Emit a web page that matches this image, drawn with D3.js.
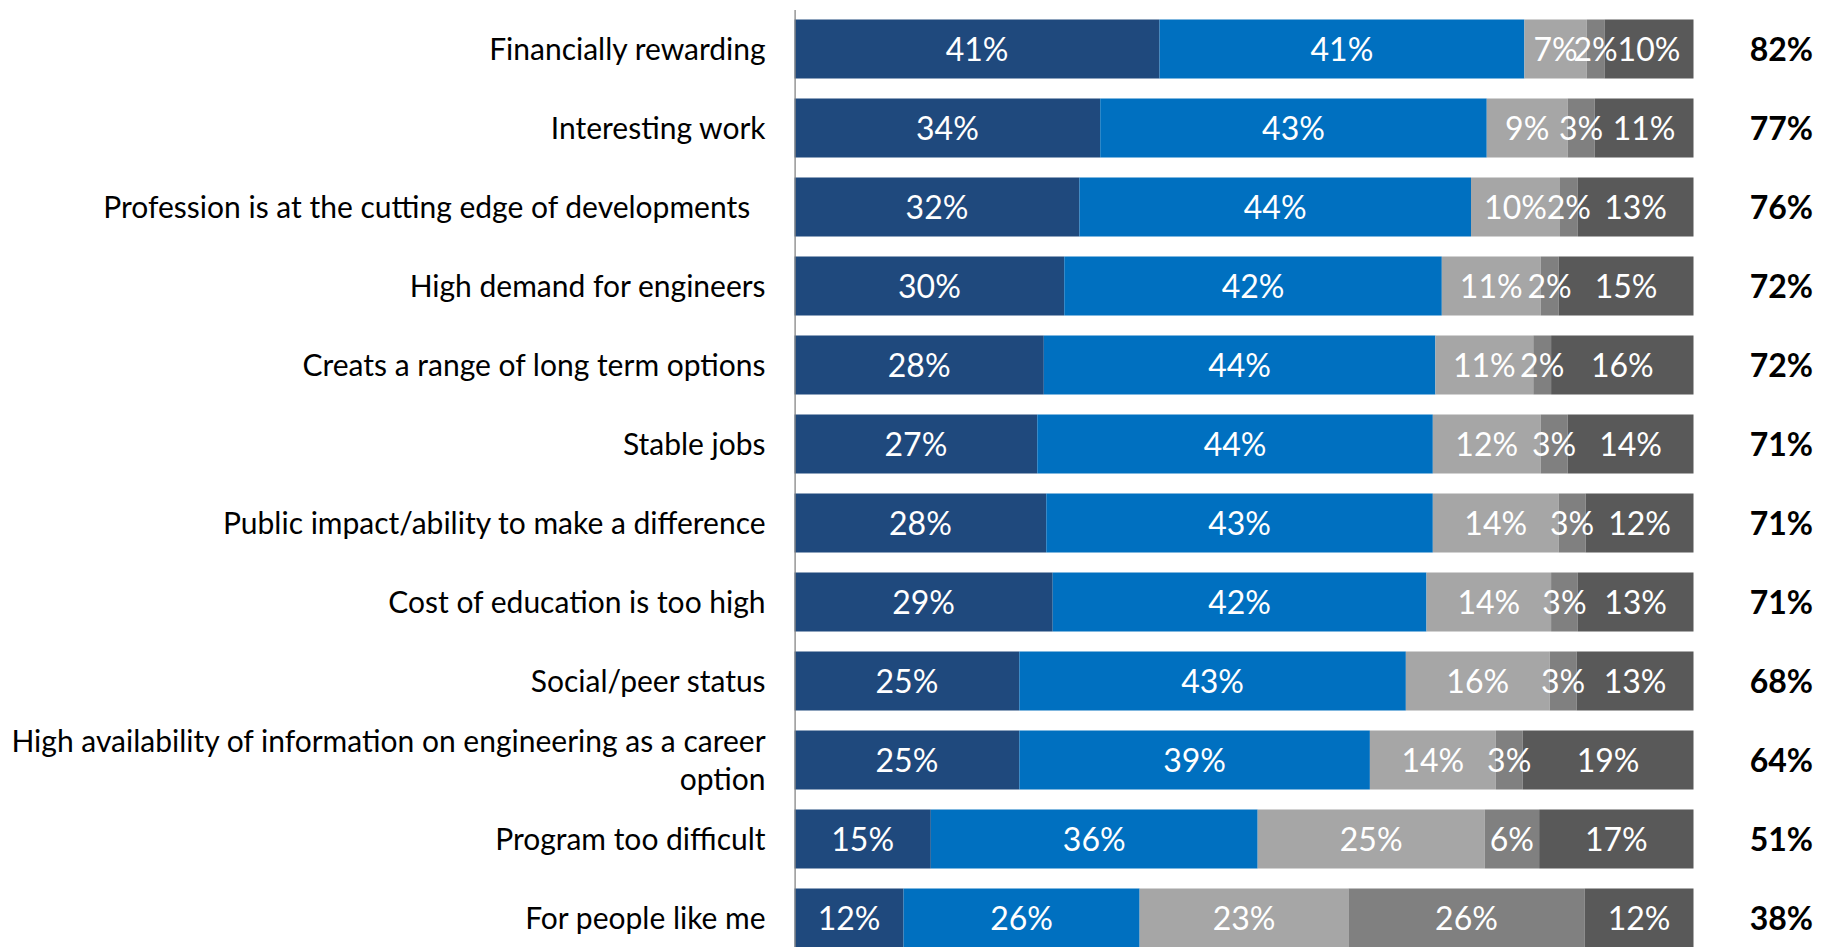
<!DOCTYPE html>
<html><head><meta charset="utf-8">
<script src="https://cdn.jsdelivr.net/npm/d3@7"></script>
<style>
html,body{margin:0;padding:0;background:#fff;}
svg{display:block;}
text{font-family:Lato, "Open Sans", sans-serif;}
</style></head>
<body>
<svg id="chart" width="1821" height="947"></svg>
<script>
const categories = [
  "Financially rewarding",
  "Interesting work",
  "Profession is at the cutting edge of developments ",
  "High demand for engineers",
  "Creats a range of long term options",
  "Stable jobs",
  "Public impact/ability to make a difference",
  "Cost of education is too high",
  "Social/peer status",
  "High availability of information on engineering as a career option",
  "Program too difficult",
  "For people like me"
];
const seriesKeys = ["s1","s2","s3","s4","s5"];
const s1 = [41,34,32,30,28,27,28,29,25,25,15,12];
const s2 = [41,43,44,42,44,44,43,42,43,39,36,26];
const s3 = [7,9,10,11,11,12,14,14,16,14,25,23];
const s4 = [2,3,2,2,2,3,3,3,3,3,6,26];
const s5 = [10,11,13,15,16,14,12,13,13,19,17,12];
const totals = [82,77,76,72,72,71,71,71,68,64,51,38];
const colors = ["#1F497D","#0070C0","#A6A6A6","#808080","#595959"];

const rows = categories.map((c,i)=>({cat:c, s1:s1[i], s2:s2[i], s3:s3[i], s4:s4[i], s5:s5[i], total:totals[i]}));

const svg = d3.select("#chart");
const x0 = 794.6, x1 = 1693.5;
const x = d3.scaleLinear().domain([0,1]).range([x0,x1]);
const y = d3.scaleBand().domain(categories).range([9.5,957.5]).paddingInner(20/79).paddingOuter(10/79);
const color = d3.scaleOrdinal().domain(seriesKeys).range(colors);

const stacked = d3.stack().keys(seriesKeys).offset(d3.stackOffsetExpand)(rows);
const segs = stacked.flatMap(layer => layer.map(v => ({v, key: layer.key})));

const g = svg.append("g");
g.selectAll("rect").data(segs).join("rect")
  .attr("fill", d=>color(d.key))
  .attr("x", d=>x(d.v[0]))
  .attr("width", d=>x(d.v[1])-x(d.v[0]))
  .attr("y", d=>y(d.v.data.cat))
  .attr("height", y.bandwidth());

// value labels (on top of all rects)
svg.append("g").selectAll("text").data(segs).join("text")
  .attr("x", d=>(x(d.v[0])+x(d.v[1]))/2)
  .attr("y", d=>y(d.v.data.cat)+y.bandwidth()/2)
  .attr("dy","0.36em")
  .attr("text-anchor","middle")
  .attr("fill","#fff")
  .style("font-size","32px")
  .text(d=>d.v.data[d.key]+"%");

// totals
svg.append("g").selectAll("text").data(rows).join("text")
  .attr("x", 1813)
  .attr("y", d=>y(d.cat)+y.bandwidth()/2)
  .attr("dy","0.36em")
  .attr("text-anchor","end")
  .style("font-size","32px")
  .style("font-weight","bold")
  .attr("fill","#000")
  .text(d=>d.total+"%");

// axis
const fs = 30;
const axis = d3.axisLeft(y).tickSize(0).tickPadding(29);
const ag = svg.append("g").attr("transform",`translate(${x0},0)`).call(axis);
ag.select(".domain").attr("stroke","#868686").attr("stroke-width",1.3);
ag.selectAll(".tick text").style("font-size",fs+"px").attr("fill","#000").style("white-space","pre")
  .each(function(d){
    const t = d3.select(this);
    const words = d.split(" ");
    const maxW = 775;
    t.text(null).attr("dy",null);
    let lines = [], cur = [];
    const probe = t.append("tspan").attr("x",-29);
    for(const w of words){
      cur.push(w);
      probe.text(cur.join(" "));
      if(probe.node().getComputedTextLength() > maxW && cur.length>1){
        cur.pop(); lines.push(cur.join(" ")); cur=[w];
      }
    }
    lines.push(cur.join(" "));
    probe.remove();
    const lh = 38;
    const off = -(lines.length-1)*lh/2 + 0.36*fs;
    lines.forEach((l,i)=>{
      t.append("tspan").attr("x",-29).attr("y",0).attr("dy", (off + i*lh)+"px").text(i===lines.length-1 && d.endsWith(" ") ? l+" " : l);
    });
  });
</script>
</body></html>
